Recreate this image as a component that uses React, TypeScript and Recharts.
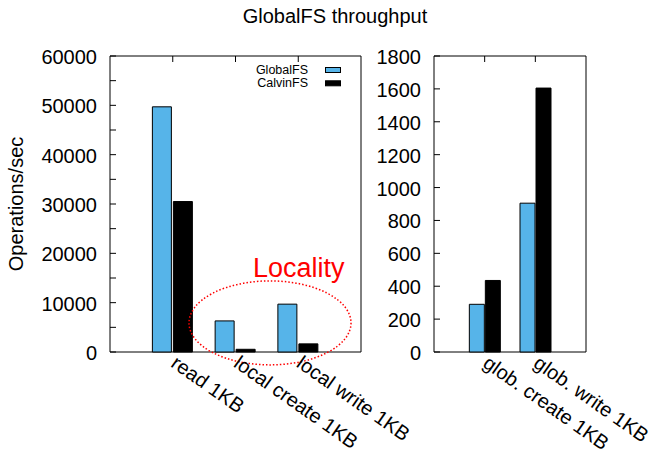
import React from 'react';
import { Bar, BarChart, ReferenceArea, ReferenceDot, XAxis, YAxis } from 'recharts';

const localCategories = ['read 1KB', 'local create 1KB', 'local write 1KB'];
const localGlobalFS = [49700, 6300, 9700];
const localCalvinFS = [30500, 550, 1650];
const localLabelTicks = [0, 10000, 20000, 30000, 40000, 50000, 60000];
const localMinorTicks = [
  0, 5000, 10000, 15000, 20000, 25000, 30000, 35000, 40000, 45000, 50000, 55000, 60000,
];

const globCategories = ['glob. create 1KB', 'glob. write 1KB'];
const globGlobalFS = [290, 905];
const globCalvinFS = [435, 1605];
const globTicks = [0, 200, 400, 600, 800, 1000, 1200, 1400, 1600, 1800];

const seriesNames = ['GlobalFS', 'CalvinFS'];
const seriesColors = ['#56B4E9', '#000000'];

const FONT = '"Liberation Sans", Arial, Helvetica, sans-serif';

const localData = localCategories.map((name, i) => ({
  x: i,
  name,
  globalfs: localGlobalFS[i],
  calvinfs: localCalvinFS[i],
}));
const globData = globCategories.map((name, i) => ({
  x: i,
  name,
  globalfs: globGlobalFS[i],
  calvinfs: globCalvinFS[i],
}));

// eslint-disable-next-line
const LeftTick = (labelled: number[]) => (props: any) => {
  const { x, y, payload } = props;
  return (
    <g>
      <line x1={x + 13} x2={x + 19} y1={y} y2={y} stroke="#000" />
      {labelled.includes(payload.value) && (
        <text x={x} y={y} dy={8} textAnchor="end" fontSize={20} fontFamily={FONT} fill="#000">
          {payload.value}
        </text>
      )}
    </g>
  );
};

// eslint-disable-next-line
const RightTick = (props: any) => (
  <line x1={props.x - 6} x2={props.x} y1={props.y} y2={props.y} stroke="#000" />
);

// eslint-disable-next-line
const TopTick = (props: any) => (
  <line x1={props.x} x2={props.x} y1={props.y} y2={props.y + 6} stroke="#000" />
);

// eslint-disable-next-line
const BottomTick = (categories: string[]) => (props: any) => {
  const { x, y, payload } = props;
  const tx = x - 3;
  const ty = y + 14;
  return (
    <text
      x={tx}
      y={ty}
      transform={`rotate(35, ${tx}, ${ty})`}
      textAnchor="start"
      fontSize={20}
      fontFamily={FONT}
      fill="#000">
      {categories[payload.value]}
    </text>
  );
};

// eslint-disable-next-line
const LocalityShape = (props: any) => (
  <g>
    <ellipse
      cx={props.cx}
      cy={props.cy}
      rx={81}
      ry={42}
      fill="none"
      stroke="#ff0000"
      strokeWidth={1.5}
      strokeDasharray="1.5 2"
    />
    <text x={props.cx - 17} y={props.cy - 46} fontSize={27} fontFamily={FONT} fill="#ff0000">
      Locality
    </text>
  </g>
);

type PanelProps = {
  data: Array<{ x: number; name: string; globalfs: number; calvinfs: number }>;
  categories: string[];
  width: number;
  axisWidth: number;
  rightMargin: number;
  yMax: number;
  majorTicks: number[];
  minorTicks: number[];
  barSize: number;
  barGap: number;
  children?: React.ReactNode;
};

const Panel = ({
  data,
  categories,
  width,
  axisWidth,
  rightMargin,
  yMax,
  majorTicks,
  minorTicks,
  barSize,
  barGap,
  children,
}: PanelProps) => {
  const xMax = categories.length;
  const xTicks = categories.map((_, i) => i);
  return (
    <BarChart
      width={width}
      height={454}
      data={data}
      barGap={barGap}
      style={{ overflow: 'visible' }}
      margin={{ top: 55, right: rightMargin, bottom: 101, left: 0 }}>
      <XAxis
        dataKey="x"
        type="number"
        domain={[-1, xMax]}
        ticks={xTicks}
        interval={0}
        height={1}
        tickSize={0}
        tickMargin={0}
        axisLine={false}
        tickLine={false}
        tick={BottomTick(categories)}
      />
      <XAxis
        xAxisId="top"
        dataKey="x"
        orientation="top"
        type="number"
        domain={[-1, xMax]}
        ticks={xTicks}
        interval={0}
        height={1}
        tickSize={0}
        tickMargin={0}
        axisLine={false}
        tickLine={false}
        tick={TopTick}
      />
      <YAxis
        type="number"
        domain={[0, yMax]}
        ticks={minorTicks}
        interval={0}
        width={axisWidth}
        tickSize={0}
        tickMargin={13}
        axisLine={false}
        tickLine={false}
        tick={LeftTick(majorTicks)}
      />
      <YAxis
        yAxisId="r"
        orientation="right"
        type="number"
        domain={[0, yMax]}
        ticks={minorTicks}
        interval={0}
        width={1}
        tickSize={0}
        tickMargin={0}
        axisLine={false}
        tickLine={false}
        tick={RightTick}
      />
      <ReferenceArea
        x1={-1}
        x2={xMax}
        y1={0}
        y2={yMax}
        fill="none"
        fillOpacity={0}
        stroke="#000"
        strokeWidth={1}
        ifOverflow="visible"
      />
      <Bar
        dataKey="globalfs"
        name={seriesNames[0]}
        fill={seriesColors[0]}
        stroke="#000"
        strokeWidth={1}
        barSize={barSize}
        isAnimationActive={false}
      />
      <Bar
        dataKey="calvinfs"
        name={seriesNames[1]}
        fill={seriesColors[1]}
        stroke="#000"
        strokeWidth={1}
        barSize={barSize}
        isAnimationActive={false}
      />
      {children}
    </BarChart>
  );
};

const App = () => {
  return (
    <div
      style={{
        position: 'absolute',
        left: 0,
        top: 0,
        width: 651,
        height: 454,
        background: '#fff',
      }}>
      <div style={{ position: 'absolute', left: 0, top: 0 }}>
        <Panel
          data={localData}
          categories={localCategories}
          width={440}
          axisWidth={110}
          rightMargin={78}
          yMax={60000}
          majorTicks={localLabelTicks}
          minorTicks={localMinorTicks}
          barSize={19}
          barGap={2}>
          <ReferenceDot x={1.55} y={5900} ifOverflow="visible" shape={LocalityShape} />
        </Panel>
      </div>
      <div style={{ position: 'absolute', left: 360, top: 0 }}>
        <Panel
          data={globData}
          categories={globCategories}
          width={291}
          axisWidth={74}
          rightMargin={64}
          yMax={1800}
          majorTicks={globTicks}
          minorTicks={globTicks}
          barSize={15}
          barGap={1}
        />
      </div>
      <svg
        width={651}
        height={454}
        style={{ position: 'absolute', left: 0, top: 0, pointerEvents: 'none' }}>
        <text x={335} y={23} textAnchor="middle" fontSize={20} fontFamily={FONT} fill="#000">
          GlobalFS throughput
        </text>
        <text
          x={23}
          y={204}
          textAnchor="middle"
          transform="rotate(-90, 23, 204)"
          fontSize={20}
          fontFamily={FONT}
          fill="#000">
          Operations/sec
        </text>
        {seriesNames.map((name, i) => (
          <g key={name}>
            <text
              x={308}
              y={74 + i * 13.3}
              textAnchor="end"
              fontSize={12.5}
              fontFamily={FONT}
              fill="#000">
              {name}
            </text>
            <rect
              x={325.5}
              y={67.5 + i * 13.3}
              width={15}
              height={5}
              fill={seriesColors[i]}
              stroke="#000"
              strokeWidth={1}
            />
          </g>
        ))}
      </svg>
    </div>
  );
};

export default App;
